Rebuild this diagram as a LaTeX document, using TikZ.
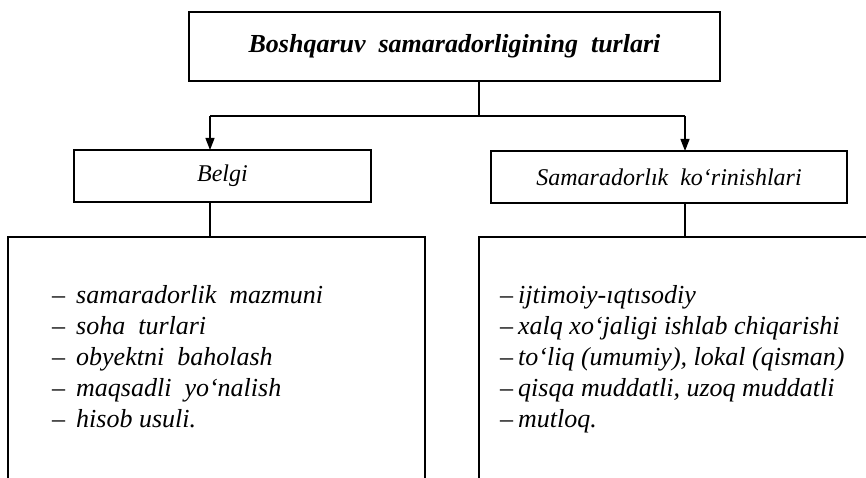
\documentclass[tikz,border=0pt]{standalone}
\usepackage{fontspec}
\setmainfont{Liberation Serif}
\usetikzlibrary{arrows.meta}
\begin{document}
\begin{tikzpicture}[x=1pt,y=-1pt,
  box/.style={draw, line width=1.4pt, inner sep=0pt, outer sep=0pt},
  conn/.style={line width=1.3pt},
  arr/.style={conn, -{Triangle[length=12pt,width=9pt]}},
  item/.style={anchor=base west, inner sep=0pt, font=\fontsize{26}{30}\selectfont\itshape},
  lbl/.style={font=\fontsize{24}{28}\selectfont\itshape}]
\useasboundingbox (0,0) rectangle (866,478);
\fill[white] (0,0) rectangle (866,478);
% boxes
\node[box, minimum width=531pt, minimum height=69pt,
      font=\fontsize{26}{30}\selectfont\bfseries\itshape] (title) at (454.5,46.5)
      {Boshqaruv\ \ samaradorligining\ \ turlari};
\node[box, minimum width=297pt, minimum height=52pt, lbl] (belgi) at (222.5,176) {Belgi};
\node[box, minimum width=356pt, minimum height=52pt, lbl] (korin) at (669,177)
      {Samaradorlık\ \ ko‘rinishlari};
\node[box, minimum width=417pt, minimum height=260pt] (lbox) at (216.5,367) {};
\node[box, minimum width=420pt, minimum height=260pt] (rbox) at (689,367) {};
% connectors
\coordinate (j) at (479,116);
\coordinate (jl) at (210,116);
\coordinate (jr) at (685,116);
\draw[conn] (title.south -| j) -- (j);
\draw[conn] (jl) -- (jr);
\draw[arr] (jl) -- (belgi.north -| jl);
\draw[arr] (jr) -- (korin.north -| jr);
\draw[conn] (belgi.south -| jl) -- (lbox.north -| jl);
\draw[conn] (korin.south -| jr) -- (rbox.north -| jr);
% left list
\node[item] (l1) at (52,303) {–\hspace{11pt}samaradorlik\ \ mazmuni};
\node[item] (l2) at (52,334) {–\hspace{11pt}soha\ \ turlari};
\node[item] (l3) at (52,365) {–\hspace{11pt}obyektni\ \ baholash};
\node[item] (l4) at (52,396) {–\hspace{11pt}maqsadli\ \ yo‘nalish};
\node[item] (l5) at (52,427) {–\hspace{11pt}hisob usuli.};
% right list
\node[item] (r1) at (500,303) {–\hspace{5pt}ijtimoiy-ıqtısodiy};
\node[item] (r2) at (500,334) {–\hspace{5pt}xalq xo‘jaligi ishlab chiqarishi};
\node[item] (r3) at (500,365) {–\hspace{5pt}to‘liq (umumiy), lokal (qisman)};
\node[item] (r4) at (500,396) {–\hspace{5pt}qisqa muddatli, uzoq muddatli};
\node[item] (r5) at (500,427) {–\hspace{5pt}mutloq.};
\end{tikzpicture}
\end{document}
